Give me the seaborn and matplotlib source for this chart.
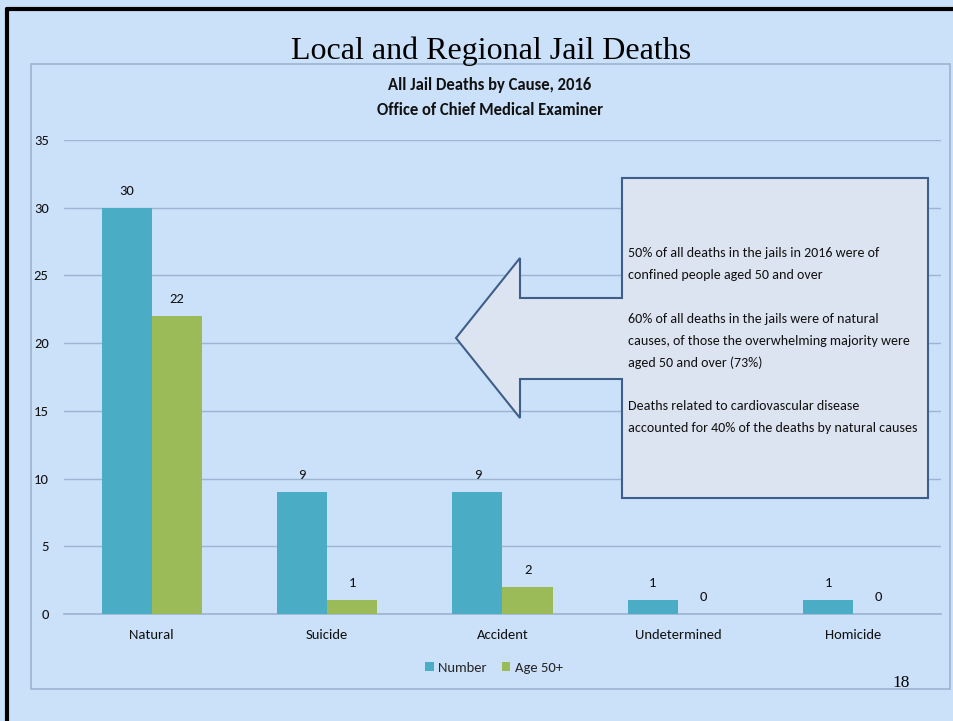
import matplotlib
matplotlib.use("Agg")
import matplotlib.pyplot as plt
from matplotlib import font_manager
from matplotlib.patches import Polygon, Rectangle, Patch
from matplotlib.lines import Line2D
import seaborn as sns
import pandas as pd

# ---- data ----
categories = ["Natural", "Suicide", "Accident", "Undetermined", "Homicide"]
number_vals = [30, 9, 9, 1, 1]
age50_vals = [22, 1, 2, 0, 0]
series_names = ["Number", "Age 50+"]
yticks = [0, 5, 10, 15, 20, 25, 30, 35]

title = "Local and Regional Jail Deaths"
subtitle = ["All Jail Deaths by Cause, 2016", "Office of Chief Medical Examiner"]
note_lines = [
    "50% of all deaths in the jails in 2016 were of",
    "confined people aged 50 and over",
    "",
    "60% of all deaths in the jails were of natural",
    "causes, of those the overwhelming majority were",
    "aged 50 and over (73%)",
    "",
    "Deaths related to cardiovascular disease",
    "accounted for 40% of the deaths by natural causes",
]
page_no = "18"

# ---- style ----
def pick(cands):
    names = {f.name for f in font_manager.fontManager.ttflist}
    for c in cands:
        if c in names:
            return c
    return "DejaVu Sans"

SANS = pick(["Carlito", "Liberation Sans Narrow", "Lato", "Open Sans"])
SERIF = pick(["Liberation Serif", "DejaVu Serif"])

BG = "#CBE0F9"
TEAL = "#4BACC6"
GREEN = "#9BBB59"
GRID = "#9DB4D2"
TXT = "#111111"

sns.set_theme(style="white")
plt.rcParams["font.family"] = [SANS, "DejaVu Sans"]

W, H = 954, 721
fig = plt.figure(figsize=(W / 100, H / 100), dpi=100, facecolor=BG)

def fx(x):
    return x / W

def fy(y):
    return 1 - y / H

# chart frame
fig.add_artist(Rectangle((fx(31), fy(689)), fx(950) - fx(31), fy(64) - fy(689),
                         transform=fig.transFigure, fill=False, edgecolor=GRID, lw=1.2, zorder=1))
# slide border (top and left)
fig.add_artist(Line2D([fx(7), fx(7)], [0, fy(9)], transform=fig.transFigure, color="black", lw=3, zorder=10))
fig.add_artist(Line2D([fx(7), 1], [fy(9), fy(9)], transform=fig.transFigure, color="black", lw=3, zorder=10))

ax = fig.add_axes([fx(64), fy(614), fx(941) - fx(64), fy(140) - fy(614)])
ax.set_facecolor(BG)

df = pd.DataFrame({
    "cause": categories * 2,
    "value": number_vals + age50_vals,
    "series": [series_names[0]] * len(categories) + [series_names[1]] * len(categories),
})

sns.barplot(data=df, x="cause", y="value", hue="series", order=categories,
            hue_order=series_names, palette=[TEAL, GREEN], width=0.572, gap=0,
            saturation=1, ax=ax, legend=False, zorder=3, linewidth=0, edgecolor="none")

for cont in ax.containers:
    ax.bar_label(cont, labels=[f"{int(v)}" for v in cont.datavalues], padding=8,
                 fontsize=10.5, color=TXT)

ax.set_xlim(-0.5, len(categories) - 0.5)
ax.set_ylim(0, 35)
ax.set_yticks(yticks)
ax.yaxis.grid(True, color=GRID, lw=1)
ax.set_axisbelow(True)
for s in ["top", "right", "left"]:
    ax.spines[s].set_visible(False)
ax.spines["bottom"].set_color(GRID)
ax.spines["bottom"].set_linewidth(1.2)
ax.tick_params(axis="both", length=0, labelsize=10.5, colors=TXT)
ax.tick_params(axis="y", pad=11)
ax.tick_params(axis="x", pad=11)
ax.set_xlabel("")
ax.set_ylabel("")

# legend
handles = [Patch(facecolor=TEAL, edgecolor="none"), Patch(facecolor=GREEN, edgecolor="none")]
fig.legend(handles, series_names, loc="center", bbox_to_anchor=(fx(494), fy(668)),
           ncol=2, frameon=False, fontsize=10.5, handlelength=0.6, handleheight=0.6,
           handletextpad=0.3, columnspacing=1.0)

# titles
fig.text(fx(491), fy(51), title, ha="center", va="center", fontsize=23,
         family=SERIF, color="black")
fig.text(fx(490), fy(85), subtitle[0], ha="center", va="center", fontsize=12,
         fontweight="bold", color=TXT)
fig.text(fx(490), fy(110), subtitle[1], ha="center", va="center", fontsize=12,
         fontweight="bold", color=TXT)
fig.text(fx(901), fy(683), page_no, ha="center", va="center", fontsize=12.5,
         family=SERIF, color="black")

# callout arrow
pts = [(622, 178), (928, 178), (928, 498), (622, 498), (622, 379), (520, 379),
       (520, 418), (456, 338), (520, 258), (520, 298), (622, 298)]
fig.add_artist(Polygon([(fx(x), fy(y)) for x, y in pts], closed=True,
                       transform=fig.transFigure, facecolor="#DCE4F1",
                       edgecolor="#3E5F8A", lw=1.5, zorder=5))
for i, line in enumerate(note_lines):
    if line:
        fig.text(fx(628), fy(253 + 21.9 * i), line, ha="left", va="center",
                 fontsize=10.1, color=TXT, zorder=6)

fig.savefig("out.png", dpi=100, facecolor=BG)
